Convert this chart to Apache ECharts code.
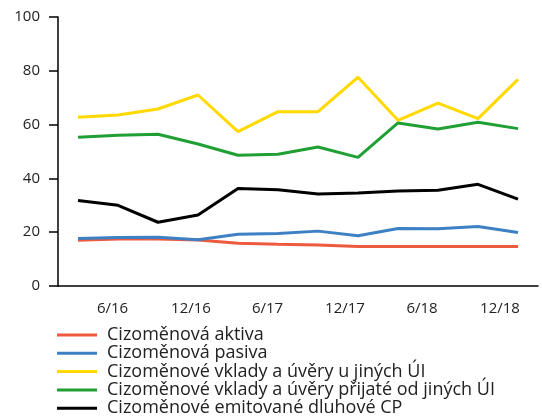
<!DOCTYPE html>
<html>
<head>
<meta charset="utf-8">
<script src="https://cdn.jsdelivr.net/npm/echarts@6/dist/echarts.min.js"></script>
<style>
  html, body { margin: 0; padding: 0; background: #fff; }
  #chart { width: 542px; height: 416px; }
</style>
</head>
<body>
<div id="chart"></div>
<script>
// čtvrtletí 3/16 .. 12/18
var categories = ['3/16', '6/16', '9/16', '12/16', '3/17', '6/17', '9/17', '12/17', '3/18', '6/18', '9/18', '12/18'];
var shownLabels = ['6/16', '12/16', '6/17', '12/17', '6/18', '12/18'];

var aktiva   = [17.0, 17.5, 17.5, 17.1, 15.9, 15.5, 15.2, 14.7, 14.7, 14.7, 14.7, 14.7];
var pasiva   = [17.7, 18.0, 18.1, 17.2, 19.2, 19.5, 20.4, 18.7, 21.4, 21.3, 22.1, 19.9];
var vkladyU  = [62.7, 63.6, 65.8, 71.0, 57.4, 64.8, 64.8, 77.6, 61.6, 68.0, 62.2, 76.8];
var vkladyOd = [55.3, 56.0, 56.4, 52.8, 48.6, 49.0, 51.7, 47.8, 60.6, 58.4, 60.9, 58.5];
var dluhoveCP = [31.8, 30.0, 23.7, 26.4, 36.2, 35.8, 34.2, 34.6, 35.3, 35.6, 37.8, 32.3];

var names = [
  'Cizoměnová aktiva',
  'Cizoměnová pasiva',
  'Cizoměnové vklady a úvěry u jiných ÚI',
  'Cizoměnové vklady a úvěry přijaté od jiných ÚI',
  'Cizoměnové emitované dluhové CP'
];
var colors = ['#ee5a3e', '#3d80c3', '#ffd900', '#20a034', '#000000'];
var values = [aktiva, pasiva, vkladyU, vkladyOd, dluhoveCP];

// popisky osy x jsou v originále mírně posunuté doleva
var labelShift = [11, 14, 21, 26, 32, 36];
var rich = {};
labelShift.forEach(function (s, i) {
  rich['s' + i] = { fontSize: 15, color: '#222', padding: [0, s, 0, 0] };
});

var myChart = echarts.init(document.getElementById('chart'));

var series = names.map(function (n, i) {
  return {
    name: n,
    type: 'line',
    data: values[i],
    showSymbol: false,
    symbol: 'none',
    animation: false,
    lineStyle: { color: colors[i], width: 3 },
    itemStyle: { color: colors[i] }
  };
});

myChart.setOption({
  textStyle: { fontFamily: '"Open Sans", sans-serif' },
  grid: { left: 58, right: 4, top: 17, bottom: 130 },
  legend: {
    orient: 'vertical',
    left: 57,
    top: 326,
    height: 200,
    padding: 0,
    icon: 'rect',
    itemWidth: 40,
    itemHeight: 3,
    itemGap: 0.3,
    data: names,
    textStyle: { fontSize: 18, color: '#222', lineHeight: 18, padding: [0, 0, 0, 5] }
  },
  xAxis: {
    type: 'category',
    data: categories,
    boundaryGap: true,
    axisLine: { lineStyle: { color: '#000', width: 1.5 } },
    axisTick: { show: false },
    axisLabel: {
      interval: 0,
      fontSize: 15,
      color: '#222',
      margin: 15,
      rich: rich,
      formatter: function (v) {
        var k = shownLabels.indexOf(v);
        return k >= 0 ? '{s' + k + '|' + v + '}' : '';
      }
    },
    splitLine: { show: false }
  },
  yAxis: {
    type: 'value',
    min: 0,
    max: 100,
    interval: 20,
    axisLine: { show: true, lineStyle: { color: '#000', width: 1.5 } },
    axisTick: { show: true, inside: false, length: 9, lineStyle: { color: '#000', width: 1.5 } },
    axisLabel: { fontSize: 15, color: '#222', margin: 18 },
    splitLine: { show: false }
  },
  series: series
});
</script>
</body>
</html>
